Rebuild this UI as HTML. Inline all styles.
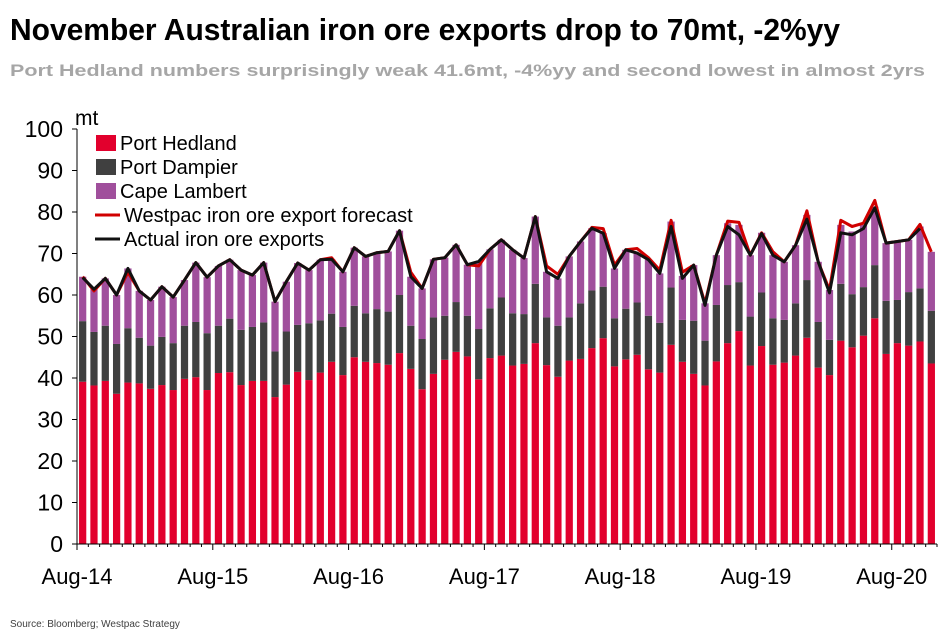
<!DOCTYPE html>
<html><head><meta charset="utf-8"><style>
body{margin:0;background:#fff;}
svg{display:block;font-family:"Liberation Sans",Arial,sans-serif;}
</style></head><body>
<svg id="chart" width="950" height="643" viewBox="0 0 950 643">
<text x="10" y="40" font-size="31" font-weight="bold" textLength="830" lengthAdjust="spacingAndGlyphs" fill="#000">November Australian iron ore exports drop to 70mt, -2%yy</text>
<text x="10" y="76" font-size="17" font-weight="bold" textLength="915" lengthAdjust="spacingAndGlyphs" fill="#a6a6a6">Port Hedland numbers surprisingly weak 41.6mt, -4%yy and second lowest in almost 2yrs</text>
<text x="75" y="125" font-size="21" fill="#000">mt</text>
<g id="bars"></g>
<g id="lines"></g>
<g id="axes"></g>
<g font-size="20" fill="#000">
<g><rect x="96" y="135" width="20" height="16" fill="#e2002d"/><text x="120" y="150">Port Hedland</text></g>
<g><rect x="96" y="159" width="20" height="16" fill="#404040"/><text x="120" y="174">Port Dampier</text></g>
<g><rect x="96" y="183" width="20" height="16" fill="#a04f9c"/><text x="120" y="198">Cape Lambert</text></g>
<g><line x1="95" y1="215" x2="120" y2="215" stroke="#d00000" stroke-width="3"/><text x="124" y="222">Westpac iron ore export forecast</text></g>
<g><line x1="95" y1="239" x2="120" y2="239" stroke="#111" stroke-width="3"/><text x="124" y="246">Actual iron ore exports</text></g>
</g>
<text x="10" y="627" font-size="10" fill="#404040">Source: Bloomberg; Westpac Strategy</text>
</svg>
<script>
const xLabels = ["Aug-14","Aug-15","Aug-16","Aug-17","Aug-18","Aug-19","Aug-20"];
const yTicks = [0,10,20,30,40,50,60,70,80,90,100];
const portHedland = [39.1,38.2,39.3,36.2,38.9,38.7,37.4,38.3,37.1,39.8,40.2,37.1,41.2,41.4,38.3,39.3,39.3,35.4,38.4,41.5,39.5,41.3,43.9,40.7,45,43.9,43.6,43.2,46,42.2,37.3,41,44.4,46.3,45.2,39.7,44.8,45.4,43,43.4,48.4,43.1,40.3,44.2,44.6,47.2,49.6,42.8,44.5,45.6,42.1,41.3,48,43.9,41,38.2,44,48.4,51.3,43,47.7,43.2,43.7,45.4,49.7,42.5,40.7,49,47.4,50.2,54.4,45.8,48.4,47.8,48.8,43.5];
const dampierTop = [53.7,51.1,52.6,48.2,52,49.7,47.8,49.9,48.4,52.6,53.5,50.8,52.6,54.3,51.6,52.3,53.4,46.4,51.2,52.8,53.2,53.9,55.5,52.3,57.4,55.6,56.6,56,60,52.6,49.4,54.6,55,58.3,55,51.8,56.8,59.4,55.6,55.4,62.7,54.6,52.6,54.6,58,61.1,62,54.4,56.7,58.2,55,53.3,61.8,54,53.8,49,57.6,62.4,63.1,54.8,60.6,54.4,54,58,63.6,53.5,49.2,62.7,60.2,61.9,67.2,58.6,58.8,60.7,61.6,56.2];
const totals = [64.4,61.4,64,60,66.4,61,58.8,62,59.5,63.6,67.8,64.3,67,68.5,66,64.8,67.8,58.4,63.2,67.7,66,68.5,68.6,65.6,71.4,69.3,70.2,70.5,75.5,64.4,61.6,68.6,69,72.1,67.3,68.1,71,73.3,70.9,68.9,78.9,65.6,64,69.3,72.9,76.1,74.9,66.4,70.9,70.1,68.5,65.2,77.7,64.6,67.2,58,69.6,77.3,76.9,69.6,75,69.6,68,72,79.3,68,61.2,76.9,75.3,76.9,81.3,72.5,72.9,73.3,76.5,70.4];
const forecast = [64.4,61,64,60,65.5,61,58.8,62,59.5,63.6,67.8,64.3,67,68.5,66,64.8,67.8,58.4,63.2,67.7,66,68.5,69,65.6,71.4,69.3,70.2,70.5,75.5,65.5,61.6,68.6,69,72.1,67.3,67,71,73.3,70.9,68.9,78.9,67,65,69.3,72.9,76.3,76,67.2,70.9,71.2,69,66,78,65.5,67.2,58,69.6,77.8,77.5,69.6,75,70.4,68,72,80.3,68,61.2,78,76.5,77.3,82.8,72.5,72.9,73.3,77,70.4];
const actual = [64.2,61.4,64,60,66.4,61,58.8,62,59.5,63.6,67.8,64.3,67,68.5,66,64.8,67.8,58.4,63.2,67.7,66,68.5,68.6,65.6,71.4,69.3,70.2,70.5,75.5,64.4,61.6,68.6,69,72.1,67.3,68.1,71,73.3,70.9,68.9,78.9,65.6,64,69.3,72.9,76.1,74.9,66.4,70.9,70.1,68.5,65.2,76.5,64,67.2,57.5,69.6,76.5,74.5,69.6,74.8,69.6,68,72,78.3,68,60.5,75,74.5,76,81,72.5,72.9,73.3,76];
const NS="http://www.w3.org/2000/svg";
const x0=77,x1=937,yBase=544,yTop=129;
const n=portHedland.length;
const slot=(x1-x0)/n;
function xC(i){return x0+slot*(i+0.5);}
function yS(v){return yBase-(v/100)*(yBase-yTop);}
function mk(tag,attrs,parent){const e=document.createElementNS(NS,tag);for(const k in attrs)e.setAttribute(k,attrs[k]);parent.appendChild(e);return e;}
const gB=document.getElementById('bars'),gL=document.getElementById('lines'),gA=document.getElementById('axes');
const bw=slot*0.64;
for(let i=0;i<n;i++){
  const segs=[[0,portHedland[i],'#e2002d','bar-port-hedland'],[portHedland[i],dampierTop[i],'#404040','bar-port-dampier'],[dampierTop[i],totals[i],'#a04f9c','bar-cape-lambert']];
  for(const s of segs){
    const r=mk('rect',{x:xC(i)-bw/2,y:yS(s[1]),width:bw,height:yS(s[0])-yS(s[1]),fill:s[2]},gB);
    
    
  }
}
function line(arr,color,name){
  const p=arr.map((v,i)=>(i?'L':'M')+xC(i).toFixed(1)+','+yS(v).toFixed(1)).join(' ');
  const e=mk('path',{d:p,fill:'none',stroke:color,'stroke-width':3,'stroke-linejoin':'round'},gL);
  
  
}
line(forecast,'#d00000','forecast-line');
line(actual,'#111111','actual-line');
mk('line',{x1:x0,y1:yTop,x2:x0,y2:yBase,stroke:'#000','stroke-width':1},gA);
mk('line',{x1:x0,y1:yBase,x2:x1,y2:yBase,stroke:'#000','stroke-width':1},gA);
yTicks.forEach(v=>{
  mk('line',{x1:x0-5,y1:yS(v),x2:x0,y2:yS(v),stroke:'#000'},gA);
  const t=mk('text',{x:63,y:yS(v)+8,'text-anchor':'end','font-size':23,fill:'#000'},gA);
  t.textContent=v;
  
  
});
for(let i=0;i<=n;i++){mk('line',{x1:x0+slot*i,y1:yBase,x2:x0+slot*i,y2:yBase+(i%12===0?6:3),stroke:'#000'},gA);}
xLabels.forEach((l,k)=>{
  const t=mk('text',{x:x0+slot*12*k,y:yBase+40,'text-anchor':'middle','font-size':22,fill:'#000'},gA);
  t.textContent=l;
  
  
});
</script>
</body></html>
